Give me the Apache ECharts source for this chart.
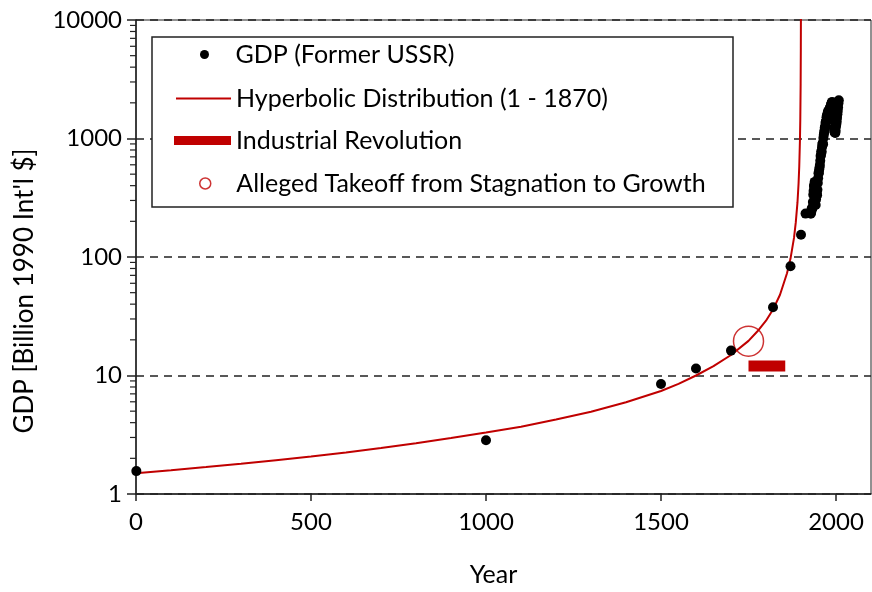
<!DOCTYPE html>
<html>
<head>
<meta charset="utf-8">
<script src="https://cdn.jsdelivr.net/npm/echarts@6/dist/echarts.min.js"></script>
<style>
  html, body { margin: 0; padding: 0; background: #fff; }
  #chart { width: 872px; height: 592px; }
</style>
</head>
<body>
<div id="chart"></div>
<script>
// GDP of the former USSR, billion 1990 Int'l $ (year, value)
const gdpYears = [1, 1000, 1500, 1600, 1700, 1820, 1870, 1900, 1913,
  1928, 1929, 1930, 1931, 1932, 1933, 1934, 1935, 1936, 1937, 1938, 1939,
  1940, 1941, 1942, 1943, 1944, 1945, 1946, 1947, 1948, 1949,
  1950, 1951, 1952, 1953, 1954, 1955, 1956, 1957, 1958, 1959,
  1960, 1961, 1962, 1963, 1964, 1965, 1966, 1967, 1968, 1969,
  1970, 1971, 1972, 1973, 1974, 1975, 1976, 1977, 1978, 1979,
  1980, 1981, 1982, 1983, 1984, 1985, 1986, 1987, 1988, 1989,
  1990, 1991, 1992, 1993, 1994, 1995, 1996, 1997, 1998, 1999,
  2000, 2001, 2002, 2003, 2004, 2005, 2006, 2007, 2008];
const gdpValues = [1.56, 2.84, 8.47, 11.45, 16.22, 37.68, 83.65, 154.0, 232.4,
  231.9, 237.7, 252.3, 254.9, 254.4, 264.1, 290.9, 334.8, 361.3, 398.0, 405.2, 430.3,
  420.1, 359.9, 274.2, 305.6, 362.1, 343.4, 332.7, 369.4, 420.7, 462.9,
  510.2, 512.6, 545.8, 569.3, 596.9, 648.0, 710.1, 724.5, 778.8, 770.2,
  843.4, 891.8, 915.9, 895.0, 1010.7, 1068.1, 1119.9, 1169.4, 1238.0, 1255.4,
  1351.8, 1387.8, 1395.7, 1513.1, 1557.0, 1561.4, 1634.6, 1673.2, 1715.2, 1707.1,
  1709.2, 1724.7, 1767.3, 1823.7, 1847.2, 1863.7, 1940.4, 1965.5, 2007.3, 2037.3,
  1988.0, 1863.5, 1592.1, 1435.0, 1231.7, 1163.4, 1126.0, 1144.0, 1112.6, 1163.1,
  1263.0, 1328.0, 1394.0, 1495.0, 1605.0, 1703.0, 1830.0, 1985.0, 2100.0];

// hyperbolic fit (1 - 1870)
const hypYears = [0, 100, 200, 300, 400, 500, 600, 700, 800, 900, 1000, 1100, 1200,
  1300, 1400, 1500, 1550, 1600, 1650, 1700, 1750, 1775, 1800, 1820, 1840, 1860,
  1870, 1880, 1885, 1890, 1893, 1895, 1897, 1898, 1899, 1899.5, 1899.8];
const hypValues = [1.5, 1.59, 1.69, 1.8, 1.93, 2.07, 2.24, 2.44, 2.68, 2.97, 3.3, 3.7, 4.25,
  4.95, 5.95, 7.4, 8.5, 10.0, 12.0, 14.9, 19.6, 23.5, 29, 36, 48, 73,
  97, 145, 195, 290, 415, 580, 970, 1450, 2900, 5800, 12000];

// industrial revolution span and alleged takeoff point
const indRevYears = [1750, 1855];
const indRevLevel = 12;
const takeoff = [1750, 19.5];

// tick values
const xTicks = [0, 500, 1000, 1500, 2000];
const yTicks = [1, 10, 100, 1000, 10000];
const yMinorTicks = [];
[1, 10, 100, 1000].forEach(d => {
  [2, 3, 4, 5, 6, 7, 8, 9].forEach(m => yMinorTicks.push(d * m));
});

const RED = '#c00000';
const FONT = 'Lato';

const chart = echarts.init(document.getElementById('chart'));

// one legend per entry so each icon can have its own size;
// legends are placed by the left edge of the visible icon
const legendBase = {
  orient: 'vertical',
  padding: 0,
  selectedMode: false,
  textStyle: { fontFamily: FONT, fontSize: 25, color: '#000' }
};

const option = {
  animation: false,
  backgroundColor: '#fff',
  grid: {
    left: 136, right: 1, top: 20, bottom: 98,
    show: true, borderColor: '#222', borderWidth: 1, backgroundColor: 'transparent'
  },
  xAxis: {
    type: 'value',
    min: 0, max: 2100, interval: 500,
    name: 'Year',
    nameLocation: 'middle',
    nameGap: 68,
    nameTextStyle: { fontFamily: FONT, fontSize: 25, color: '#000', padding: [0, 20, 0, 0] },
    axisLine: { lineStyle: { color: '#222', width: 1.5 } },
    axisTick: { show: true, inside: false, length: 7, lineStyle: { color: '#222', width: 1.5 } },
    axisLabel: {
      fontFamily: FONT, fontSize: 24, color: '#000', margin: 16, showMaxLabel: false,
      formatter: v => (xTicks.indexOf(v) >= 0 ? String(v) : '')
    },
    splitLine: { show: false }
  },
  yAxis: {
    type: 'log', logBase: 10,
    min: 1, max: 10000,
    axisLine: { show: true, lineStyle: { color: '#222', width: 1.5 } },
    axisTick: { show: true, inside: false, length: 9, lineStyle: { color: '#222', width: 1.5 } },
    axisLabel: {
      fontFamily: FONT, fontSize: 24, color: '#000', margin: 14,
      formatter: v => (yTicks.indexOf(Math.round(v)) >= 0 ? String(Math.round(v)) : '')
    },
    splitLine: {
      show: true,
      lineStyle: { color: '#222', width: 1.6, type: [8, 6] }
    }
  },
  legend: [
    Object.assign({}, legendBase, {
      left: 200, top: 42, itemWidth: 52, itemHeight: 9,
      data: [{ name: 'GDP (Former USSR)', icon: 'circle' }]
    }),
    Object.assign({}, legendBase, {
      left: 176, top: 86, itemWidth: 55, itemHeight: 2,
      data: [{ name: 'Hyperbolic Distribution (1 - 1870)', icon: 'rect' }]
    }),
    Object.assign({}, legendBase, {
      left: 174, top: 128, itemWidth: 57, itemHeight: 9,
      data: [{ name: 'Industrial Revolution', icon: 'rect' }]
    }),
    Object.assign({}, legendBase, {
      left: 199, top: 171, itemWidth: 52, itemHeight: 11,
      data: [{
        name: 'Alleged Takeoff from Stagnation to Growth', icon: 'circle',
        itemStyle: { color: '#fff', borderColor: RED, borderWidth: 1.5 }
      }]
    })
  ],
  graphic: [
    {
      type: 'rect', z: 3,
      shape: { x: 152, y: 37, width: 581, height: 170 },
      style: { fill: '#fff', stroke: '#222', lineWidth: 1.5 }
    },
    {
      type: 'text', z: 5,
      x: 25, y: 291, rotation: Math.PI / 2,
      style: {
        text: 'GDP [Billion 1990 Int\'l $]',
        fontFamily: FONT, fontSize: 26, fill: '#000',
        align: 'center', verticalAlign: 'middle'
      }
    }
  ],
  series: [
    {
      name: 'Hyperbolic Distribution (1 - 1870)',
      type: 'line',
      data: hypYears.map((y, i) => [y, hypValues[i]]),
      showSymbol: false,
      smooth: false,
      clip: true,
      lineStyle: { color: RED, width: 2 },
      itemStyle: { color: RED },
      z: 3
    },
    {
      name: 'Industrial Revolution',
      type: 'line',
      data: indRevYears.map(y => [y, indRevLevel]),
      showSymbol: false,
      lineStyle: { color: RED, width: 11, cap: 'butt' },
      itemStyle: { color: RED },
      z: 3
    },
    {
      name: 'Alleged Takeoff from Stagnation to Growth',
      type: 'scatter',
      data: [takeoff],
      symbol: 'circle',
      symbolSize: 30,
      itemStyle: { color: 'rgba(0,0,0,0)', borderColor: RED, borderWidth: 1.5 },
      z: 3
    },
    {
      name: 'GDP (Former USSR)',
      type: 'scatter',
      data: gdpYears.map((y, i) => [y, gdpValues[i]]),
      symbol: 'circle',
      symbolSize: 10,
      itemStyle: { color: '#000', opacity: 1 },
      z: 4
    },
    {
      // log minor ticks on the left axis
      type: 'custom',
      data: yMinorTicks.map(v => [0, v]),
      silent: true,
      clip: false,
      renderItem: (params, api) => {
        const p = api.coord([0, api.value(1)]);
        return {
          type: 'line',
          shape: { x1: p[0] - 6, y1: p[1], x2: p[0], y2: p[1] },
          style: { stroke: '#222', lineWidth: 1.2 }
        };
      },
      z: 5
    }
  ]
};

chart.setOption(option);
</script>
</body>
</html>
